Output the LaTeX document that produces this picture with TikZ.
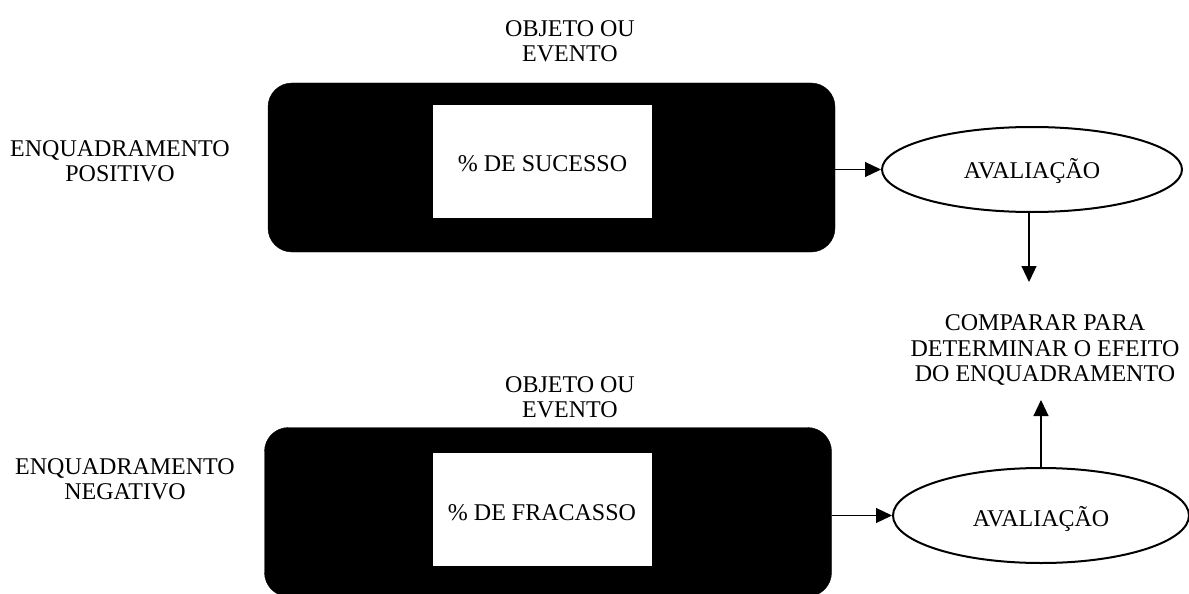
\documentclass[tikz,border=0pt]{standalone}
\usepackage{fontspec}
\setmainfont{Liberation Serif}
\usetikzlibrary{shapes.geometric,arrows.meta}
\begin{document}
\begin{tikzpicture}[x=1pt,y=-1pt,
  txt/.style={font=\fontsize{24}{25.5}\selectfont, align=center, inner sep=0pt},
  frame/.style={fill=black, draw=black, rounded corners=24pt, minimum width=567pt, minimum height=169pt, inner sep=0pt},
  inner/.style={txt, fill=white, minimum width=219pt, minimum height=113pt, text depth=0pt},
  evalnode/.style={txt, ellipse, draw=black, line width=2pt, fill=white, text depth=0pt},
  arr/.style={line width=1.2pt, -{Triangle[length=16pt,width=15pt]}}]
\useasboundingbox (0,0) rectangle (1189,594);
\clip (0,0) rectangle (1189,594);
% labels
\node[txt] (obj1) at (570,41) {OBJETO OU\\EVENTO};
\node[txt] (obj2) at (570,397) {OBJETO OU\\EVENTO};
\node[txt] (pos) at (120,161) {ENQUADRAMENTO\\POSITIVO};
\node[txt] (neg) at (125,479) {ENQUADRAMENTO\\NEGATIVO};
% frames
\node[frame] (f1) at (551.5,167.5) {};
\node[frame] (f2) at (548,512) {};
\node[inner, text height=19pt] (s1) at (542.5,161.5) {\% DE SUCESSO};
\node[inner, text height=22pt] (s2) at (542,509) {\% DE FRACASSO};
% ellipses
\node[evalnode, text height=18pt, minimum width=300pt, minimum height=85pt] (e1) at (1032,169.5) {AVALIAÇÃO};
\node[evalnode, text height=21pt, minimum width=296pt, minimum height=95pt] (e2) at (1041,515.5) {AVALIAÇÃO};
% comparison
\node[txt] (cmp) at (1045,350) {COMPARAR PARA\\DETERMINAR O EFEITO\\DO ENQUADRAMENTO};
% connectors
\coordinate (t1) at (1029,282);
\coordinate (t2) at (1041,400);
\draw[arr] (f1.east |- e1.west) -- (e1.west);
\draw[arr] (f2.east |- e2.west) -- (e2.west);
\draw[arr] (e1.south -| t1) -- (t1);
\draw[arr] (e2.north) -- (t2);
\end{tikzpicture}
\end{document}
